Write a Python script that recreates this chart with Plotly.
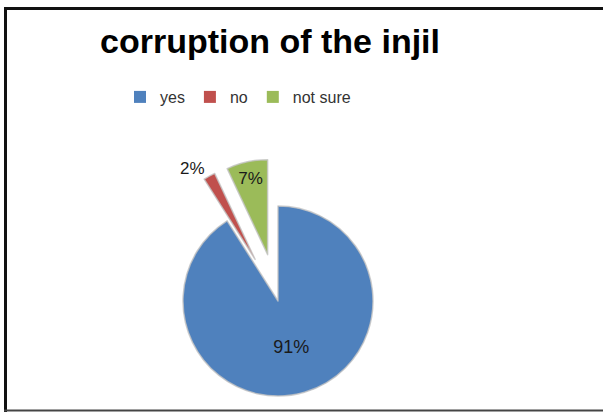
import math
import plotly.graph_objects as go

# Survey answers
labels = ["yes", "no", "not sure"]
values = [91, 2, 7]
colors = ["#4F81BD", "#C0504D", "#9BBB59"]
exploded = ["no", "not sure"]   # slices pulled away from the pie

W, H = 603, 412
CX, CY, R = 278, 301, 95       # pie centre and radius in pixels
EXPLODE = 0.5                  # pull distance as a fraction of the radius
CLEAR = "rgba(0,0,0,0)"
RIM = "rgba(195,195,195,0.8)"


def domain_at(cx, cy, r):
    return dict(x=[(cx - r) / W, (cx + r) / W],
                y=[(H - cy - r) / H, (H - cy + r) / H])


def mid_angle(i):
    total = sum(values)
    start = sum(values[:i])
    return (start + values[i] / 2) / total * 2 * math.pi


def only(i, on, off):
    return [on if j == i else off for j in range(len(values))]


fig = go.Figure()

# legend source, tucked beneath the big slice
fig.add_trace(go.Pie(
    labels=labels, values=values, sort=False, direction="clockwise",
    marker=dict(colors=colors), textinfo="none", hoverinfo="skip",
    domain=domain_at(CX + 40, CY + 40, 1), showlegend=True,
))

# one trace per slice so the exploded ones can be shifted along their bisector
for i, lab in enumerate(labels):
    shift = EXPLODE * R if lab in exploded else 0
    a = mid_angle(i)
    cx = CX + shift * math.sin(a)
    cy = CY - shift * math.cos(a)
    pos = "outside" if values[i] < 5 else "inside"
    size = 18 if values[i] > 50 else 17
    fig.add_trace(go.Pie(
        labels=labels, values=values, sort=False, direction="clockwise",
        marker=dict(colors=only(i, colors[i], CLEAR),
                    line=dict(color=only(i, RIM, CLEAR), width=only(i, 1.5, 0))),
        texttemplate=only(i, "%{percent:.0%}", ""),
        textposition=only(i, pos, "none"),
        insidetextorientation="horizontal",
        insidetextfont=dict(family="Liberation Sans", size=size, color="#1a1a1a"),
        outsidetextfont=dict(family="Liberation Sans", size=size, color="#1a1a1a"),
        hoverinfo="label+percent",
        domain=domain_at(cx, cy, R), showlegend=False,
    ))

# frame around the chart
frame = [
    dict(x0=5.5, x1=5.5, y0=7, y1=H, color="#111111", width=3),
    dict(x0=4, x1=W, y0=8.5, y1=8.5, color="#111111", width=3),
    dict(x0=4, x1=W, y0=H - 1.5, y1=H - 1.5, color="#444444", width=2),
]
for f in frame:
    fig.add_shape(type="line", xref="paper", yref="paper",
                  x0=f["x0"] / W, x1=f["x1"] / W,
                  y0=1 - f["y0"] / H, y1=1 - f["y1"] / H,
                  line=dict(color=f["color"], width=f["width"]))

fig.update_layout(
    width=W, height=H,
    margin=dict(l=0, r=0, t=0, b=0),
    paper_bgcolor="white",
    title=dict(text="<b>corruption of the injil</b>", x=270 / W, xanchor="center",
               y=1 - 41 / H, yanchor="middle",
               font=dict(family="Liberation Sans", size=34, color="#000000")),
    legend=dict(orientation="h", x=238 / W, xanchor="center",
                y=1 - 97 / H, yanchor="middle",
                font=dict(family="Liberation Sans", size=16, color="#333333")),
)

fig.write_html("out.html")
